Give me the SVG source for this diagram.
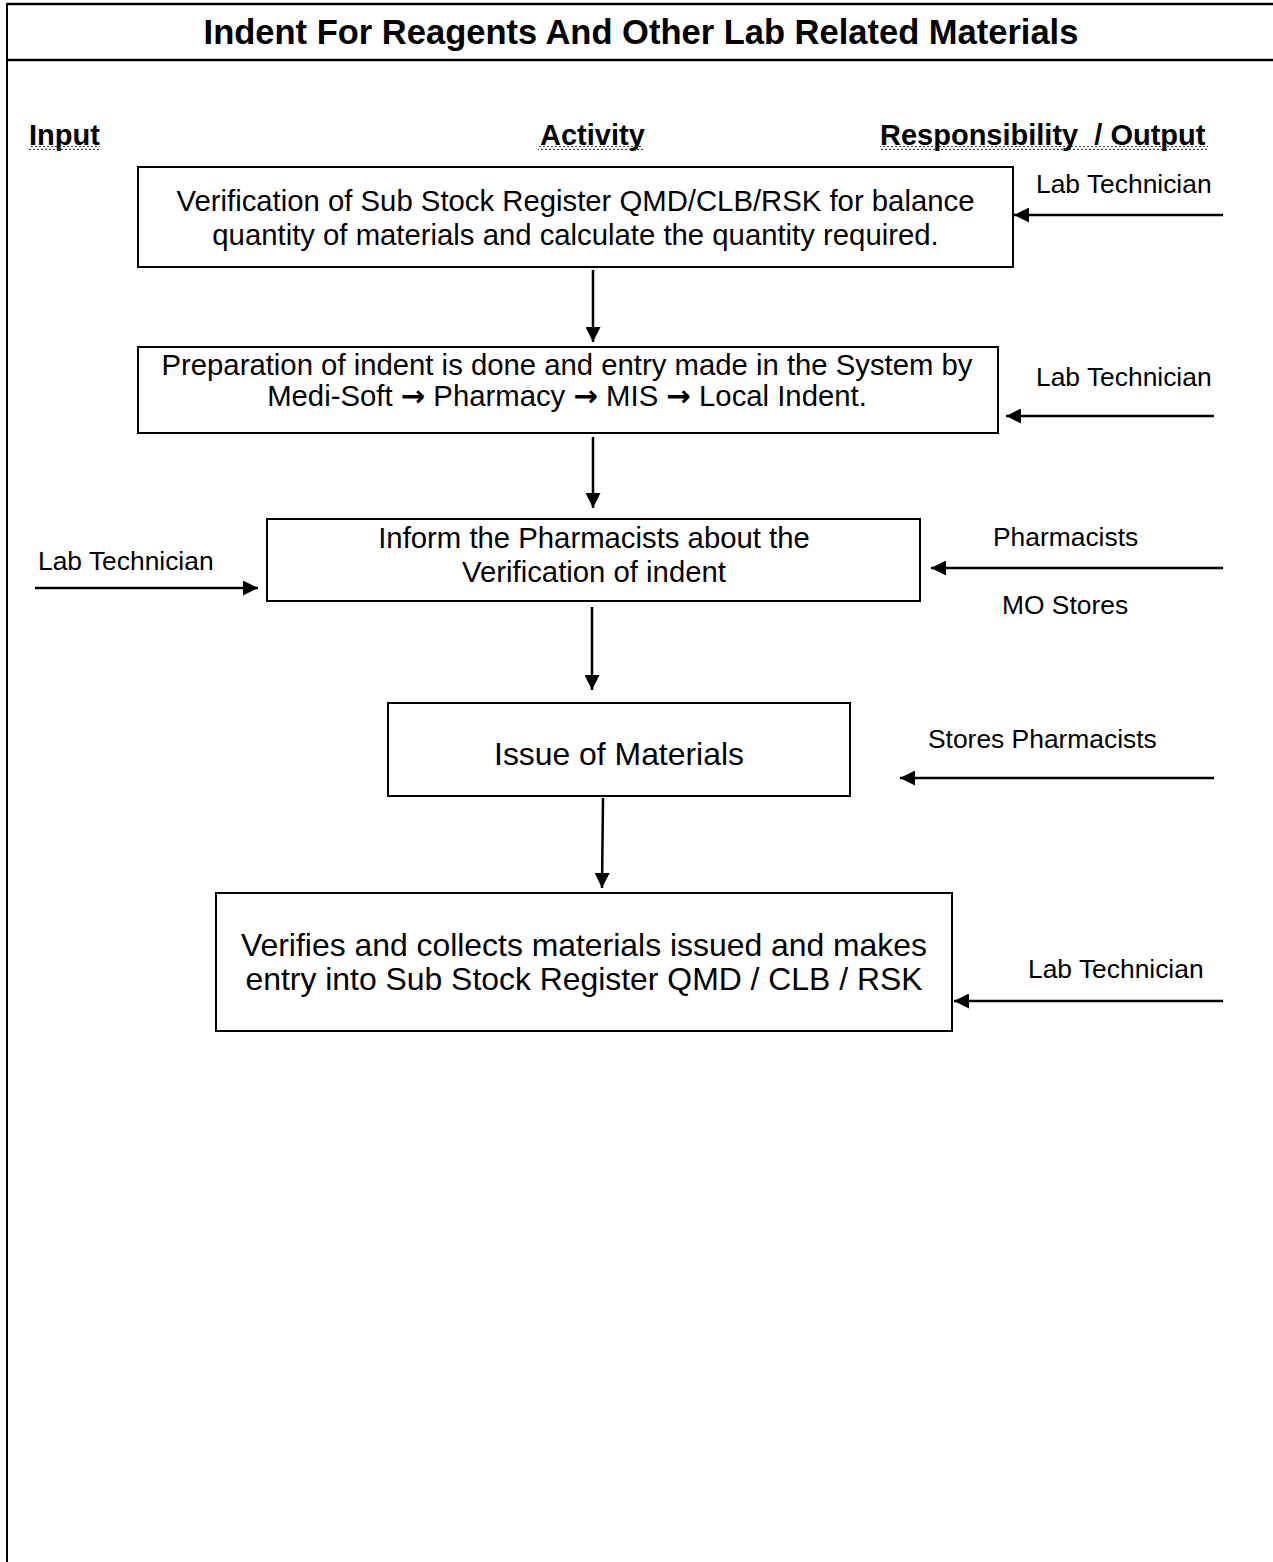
<svg xmlns="http://www.w3.org/2000/svg" width="1273" height="1562" viewBox="0 0 1273 1562">
<style>
  text { font-family: "Liberation Sans", Arial, sans-serif; fill: #000; }
  .title { font-size: 34.5px; font-weight: bold; }
  .hdr { font-size: 29px; font-weight: bold; }
  .body { font-size: 29.3px; }
  .big { font-size: 31.9px; }
  .lbl { font-size: 26.4px; }
  .ar { font-family: "DejaVu Sans", sans-serif; font-weight: bold; }
  .box { fill: #fff; stroke: #000; stroke-width: 2; }
  .frame { stroke: #000; fill: none; }
  .conn { stroke: #000; stroke-width: 2.5; fill: none; marker-end: url(#arr); }
</style>
<defs>
  <marker id="arr" markerUnits="userSpaceOnUse" markerWidth="15" markerHeight="15" refX="15" refY="7.5" orient="auto">
    <path d="M0,0 L15,7.5 L0,15 z" fill="#000"/>
  </marker>
  <pattern id="wavy" patternUnits="userSpaceOnUse" width="4" height="4">
    <path d="M0,3.2 L2,0.8 L4,3.2" fill="none" stroke="#333" stroke-width="1"/>
  </pattern>
</defs>
<rect x="0" y="0" width="1273" height="1562" fill="#fff"/>
<g id="frame">
  <line class="frame" x1="7" y1="4" x2="1273" y2="4" stroke-width="2.5"/>
  <line class="frame" x1="7" y1="60" x2="1273" y2="60" stroke-width="2.5"/>
  <line class="frame" x1="7" y1="3" x2="7" y2="1562" stroke-width="2"/>
</g>
<g id="title">
  <text class="title" x="641" y="44" text-anchor="middle">Indent For Reagents And Other Lab Related Materials</text>
</g>
<g id="headers">
  <text class="hdr" x="29" y="145">Input</text>
  <rect x="29" y="146" width="71" height="4" fill="url(#wavy)"/>
  <text class="hdr" x="540" y="145">Activity</text>
  <rect x="538" y="146" width="105" height="4" fill="url(#wavy)"/>
  <text class="hdr" x="880" y="145" xml:space="preserve">Responsibility  / Output</text>
  <rect x="880" y="146" width="328" height="4" fill="url(#wavy)"/>
</g>
<g id="connectors">
  <line class="conn" x1="1223" y1="215" x2="1014" y2="215"/>
  <line class="conn" x1="1214" y1="416" x2="1006" y2="416"/>
  <line class="conn" x1="593" y1="270" x2="593" y2="342"/>
  <line class="conn" x1="593" y1="437" x2="593" y2="508"/>
  <line class="conn" x1="35" y1="588" x2="258" y2="588"/>
  <line class="conn" x1="1223" y1="568" x2="931" y2="568"/>
  <line class="conn" x1="592" y1="607" x2="592" y2="690"/>
  <line class="conn" x1="1214" y1="778" x2="900" y2="778"/>
  <line class="conn" x1="603" y1="798" x2="602" y2="888"/>
  <line class="conn" x1="1223" y1="1001" x2="954" y2="1001"/>
</g>
<g id="node1">
  <rect class="box" x="138" y="167" width="875" height="100"/>
  <text class="body" x="575.5" y="211" text-anchor="middle">Verification of Sub Stock Register QMD/CLB/RSK for balance</text>
  <text class="body" x="575.5" y="245" text-anchor="middle">quantity of materials and calculate the quantity required.</text>
</g>
<g id="node2">
  <rect class="box" x="138" y="347" width="860" height="86"/>
  <text class="body" x="567" y="375" text-anchor="middle">Preparation of indent is done and entry made in the System by</text>
  <text class="body" x="567" y="406" text-anchor="middle">Medi-Soft <tspan class="ar">→</tspan> Pharmacy <tspan class="ar">→</tspan> MIS <tspan class="ar">→</tspan> Local Indent.</text>
</g>
<g id="node3">
  <rect class="box" x="267" y="519" width="653" height="82"/>
  <text class="body" x="594" y="548" text-anchor="middle">Inform the Pharmacists about the</text>
  <text class="body" x="594" y="582" text-anchor="middle">Verification of indent</text>
</g>
<g id="node4">
  <rect class="box" x="388" y="703" width="462" height="93"/>
  <text class="big" x="619" y="765" text-anchor="middle">Issue of Materials</text>
</g>
<g id="node5">
  <rect class="box" x="216" y="893" width="736" height="138"/>
  <text class="big" x="584" y="956" text-anchor="middle">Verifies and collects materials issued and makes</text>
  <text class="big" x="584" y="990" text-anchor="middle">entry into Sub Stock Register QMD / CLB / RSK</text>
</g>
<g id="labels">
  <text class="lbl" x="1036" y="193">Lab Technician</text>
  <text class="lbl" x="1036" y="386">Lab Technician</text>
  <text class="lbl" x="38" y="570">Lab Technician</text>
  <text class="lbl" x="993" y="546">Pharmacists</text>
  <text class="lbl" x="1002" y="614">MO Stores</text>
  <text class="lbl" x="928" y="748">Stores Pharmacists</text>
  <text class="lbl" x="1028" y="978">Lab Technician</text>
</g>
</svg>
